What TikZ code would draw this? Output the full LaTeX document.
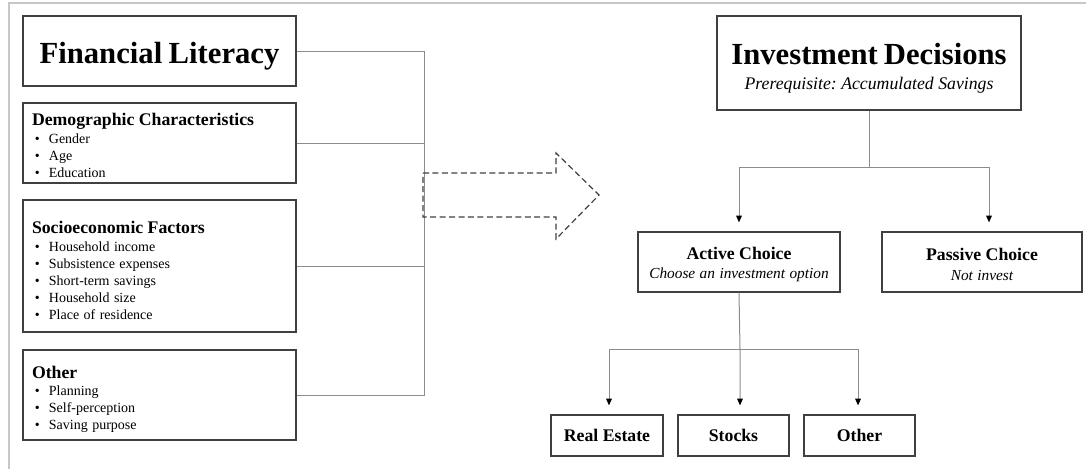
\documentclass[tikz,border=0pt]{standalone}
\usepackage{fontspec}
\setmainfont{Liberation Serif}
\usetikzlibrary{arrows.meta}
\setlength\parindent{0pt}
\frenchspacing
\definecolor{boxline}{HTML}{404040}
\definecolor{connline}{HTML}{8C8C8C}
\definecolor{framegray}{HTML}{C8C8C8}
\newcommand\bi{\hspace*{2.2pt}\makebox[10.5pt][l]{\textbullet}}
\newcommand\hdfont{\fontsize{13.3}{15}\selectfont\bfseries}
\newcommand\lifont{\fontsize{10.5}{12.6}\selectfont}
\newcommand\bigfont{\fontsize{23}{27}\selectfont\bfseries}
\newcommand\lift[1]{\rule{0pt}{#1}}
\tikzset{
  box/.style={draw=boxline, line width=0.9pt, inner xsep=3pt, inner ysep=0pt, align=center},
  lbox/.style={draw=boxline, line width=0.9pt, inner xsep=6.75pt, inner ysep=0pt,
    text width=191.25pt, align=left},
  conn/.style={draw=connline, line width=0.75pt},
  arr/.style={conn, -{Triangle[length=5pt,width=4.2pt,black]}, shorten >=6.75pt},
  bigarrow/.style={draw=boxline, line width=0.9pt, dash pattern=on 4.5pt off 2.6pt, line join=miter},
  frame/.style={draw=framegray, line width=1.5pt}
}
\begin{document}
\begin{tikzpicture}[x=0.75pt,y=-0.75pt]
\useasboundingbox (0,0) rectangle (1086,469);
\draw[frame] (8.5,469) -- (8.5,2.5) -- (1086,2.5);

% left column
\node[box, text width=198.75pt, minimum height=52.5pt] (fl) at (159.5,51)
  {\bigfont\lift{23pt}Financial\ \hspace{1.5pt}Literacy};
\node[lbox, minimum height=60pt] (demo) at (159.5,143)
  {{\hdfont\lift{12.6pt}Demographic Characteristics\par}\vspace{1.5pt}
   \lifont\bi Gender\par\bi Age\par\bi Education\par};
\node[lbox, minimum height=99pt] (soc) at (159.5,266)
  {{\hdfont\lift{15.2pt}Socioeconomic Factors\par}\vspace{1.5pt}
   \lifont\bi Household income\par\bi Subsistence expenses\par\bi Short-term savings\par
   \bi Household size\par\bi Place of residence\par};
\node[lbox, minimum height=67.5pt] (oth) at (159.5,395)
  {{\hdfont\lift{15.2pt}Other\par}\vspace{0.6pt}
   \lifont\bi Planning\par\bi Self-perception\par\bi Saving purpose\par};

% bus connector
\coordinate (busT) at (424,51);
\coordinate (busB) at (424,395);
\draw[conn] (fl.east) -- (busT) -- (busB) -- (oth.east);
\draw[conn] (demo.east) -- (demo.east -| busT);
\draw[conn] (soc.east) -- (soc.east -| busT);

% big dashed arrow
\draw[bigarrow] (423,173) -- (556,173) -- (556,153) -- (599,195) -- (556,239)
  -- (556,217) -- (423,217) -- cycle;

% right side
\node[box, text width=222pt, minimum height=70.5pt] (inv) at (869,63)
  {{\bigfont\lift{24.2pt}Investment\ \hspace{1.2pt}Decisions\par}
   {\fontsize{13.3}{19}\selectfont\itshape Prerequisite: Accumulated Savings\par}};
\node[box, text width=145.5pt, minimum height=45pt] (act) at (739,262)
  {{\hdfont\lift{13pt}Active Choice\par}
   {\fontsize{11.5}{14.6}\selectfont\itshape Choose an investment option\par}};
\node[box, text width=144pt, minimum height=45pt] (pas) at (982,262)
  {{\hdfont\lift{13pt}Passive Choice\par}
   {\fontsize{11.5}{14.6}\selectfont\itshape Not invest\par}};
\node[box, text width=78pt, minimum height=30.75pt] (re) at (607,435.5)
  {\hdfont Real Estate};
\node[box, text width=77.25pt, minimum height=30.75pt] (stk) at (733.5,435.5)
  {\hdfont Stocks};
\node[box, text width=77.25pt, minimum height=30.75pt] (oth2) at (859.5,435.5)
  {\hdfont Other};

\coordinate (s1) at (869,167);
\draw[conn] (inv.south) -- (s1);
\draw[arr] (s1) -| (act.north);
\draw[arr] (s1) -| ([xshift=5.25pt]pas.north);

\coordinate (s2) at (740,349);
\draw[conn] (act.south) -- (s2);
\draw[arr] (s2) -| ([xshift=1.5pt]re.north);
\draw[arr] (s2) -- ([xshift=4.9pt]stk.north);
\draw[arr] (s2) -| ([xshift=-1.1pt]oth2.north);
\end{tikzpicture}
\end{document}
